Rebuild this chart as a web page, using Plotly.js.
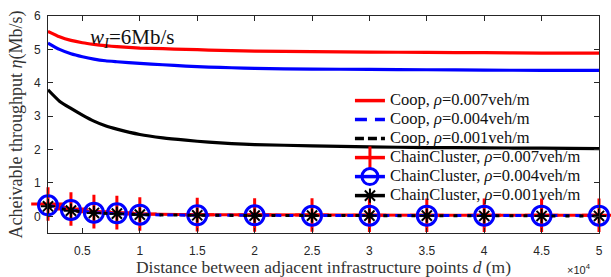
<!DOCTYPE html>
<html><head><meta charset="utf-8">
<script src="https://cdn.plot.ly/plotly-3.0.1.min.js"></script>
<style>html,body{margin:0;padding:0;background:#fff}#c{width:611px;height:277px}</style>
</head><body><div id="c"></div>
<script>
// Coop curves (distance d in m)
var coopD = [2000,3000,4000,5000,6000,7000,8000,10000,12000,14000,16000,18000,20000,25000,30000,35000,40000,45000,50000];
var coop007 = [5.54,5.38,5.27,5.20,5.15,5.11,5.08,5.04,5.02,5.00,4.98,4.96,4.95,4.93,4.92,4.91,4.90,4.89,4.89];
var coop004 = [5.19,5.00,4.87,4.78,4.71,4.66,4.63,4.58,4.54,4.50,4.47,4.45,4.43,4.41,4.40,4.39,4.38,4.37,4.37];
var coop001 = [3.79,3.45,3.23,3.03,2.85,2.71,2.61,2.45,2.35,2.28,2.22,2.18,2.15,2.11,2.08,2.06,2.05,2.04,2.03];
// ChainCluster points
var chainD = [2000,4000,6000,8000,10000,15000,20000,25000,30000,35000,40000,45000,50000];
var chain007 = [0.37,0.22,0.14,0.11,0.07,0.05,0.04,0.04,0.03,0.03,0.03,0.03,0.03];
var chain004 = [0.33,0.19,0.11,0.09,0.05,0.03,0.03,0.02,0.02,0.02,0.02,0.02,0.02];
var chain001 = [0.30,0.17,0.10,0.08,0.05,0.03,0.02,0.02,0.02,0.02,0.01,0.01,0.01];
// axis ticks
var xTickVals = [5000,10000,15000,20000,25000,30000,35000,40000,45000,50000];
var xTickText = ['0.5','1','1.5','2','2.5','3','3.5','4','4.5','5'];
var yTickVals = [0,1,2,3,4,5,6];
var names = ['Coop, <i>ρ</i>=0.007veh/m','Coop, <i>ρ</i>=0.004veh/m','Coop, <i>ρ</i>=0.001veh/m',
  'ChainCluster, <i>ρ</i>=0.007veh/m','ChainCluster, <i>ρ</i>=0.004veh/m','ChainCluster, <i>ρ</i>=0.001veh/m'];
function big(s){ return '<span style="font-size:16.5px">' + s + '</span>'; }

var RED='#ff0000', BLUE='#0000ff', BLACK='#000000';
var traces = [
  {x:coopD,y:coop007,mode:'lines',line:{color:RED,width:3.2,shape:'spline',smoothing:0.6},showlegend:false},
  {x:coopD,y:coop004,mode:'lines',line:{color:BLUE,width:3.2,shape:'spline',smoothing:0.6},showlegend:false},
  {x:coopD,y:coop001,mode:'lines',line:{color:BLACK,width:3.2,shape:'spline',smoothing:0.6},showlegend:false},
  {x:chainD,y:chain007,mode:'lines+markers',cliponaxis:false,line:{color:RED,width:3},marker:{symbol:'cross-thin-open',size:24,line:{color:RED,width:3}},showlegend:false},
  {x:chainD,y:chain004,mode:'lines+markers',cliponaxis:false,line:{color:BLUE,width:3,dash:'6px,6px'},marker:{symbol:'circle-open',size:19,line:{color:BLUE,width:3}},showlegend:false},
  {x:chainD,y:chain001,mode:'lines+markers',cliponaxis:false,line:{color:BLACK,width:3,dash:'4px,10px'},marker:{symbol:'asterisk-open',size:12,line:{color:BLACK,width:2}},showlegend:false},
  // legend entries
  {x:[null],y:[null],mode:'lines',name:big(names[0]),line:{color:RED,width:3.5}},
  {x:[null],y:[null],mode:'lines',name:big(names[1]),line:{color:BLUE,width:3.5,dash:'12px,8px'}},
  {x:[null],y:[null],mode:'lines',name:big(names[2]),line:{color:BLACK,width:3.5,dash:'9px,4px'}},
  {x:[null],y:[null],mode:'lines+markers',name:big(names[3]),line:{color:RED,width:3.5},marker:{symbol:'cross-thin-open',size:24,line:{color:RED,width:3}}},
  {x:[null],y:[null],mode:'lines+markers',name:big(names[4]),line:{color:BLUE,width:3.5},marker:{symbol:'circle-open',size:16,line:{color:BLUE,width:3}}},
  {x:[null],y:[null],mode:'lines+markers',name:big(names[5]),line:{color:BLACK,width:3.5},marker:{symbol:'asterisk-open',size:12,line:{color:BLACK,width:2}}}
];

var axColor = '#262626';
var serif = 'Liberation Serif, Times New Roman, serif';
var layout = {
  width:611, height:277,
  margin:{l:48,r:12,t:16,b:44},
  paper_bgcolor:'#fff', plot_bgcolor:'#fff',
  font:{family:'Liberation Sans, Arial, sans-serif', size:12, color:axColor},
  xaxis:{range:[2000,50000], tickvals:xTickVals, ticktext:xTickText, ticks:'inside', ticklen:5, tickcolor:axColor,
    showline:true, linecolor:axColor, linewidth:1, mirror:'ticks', showgrid:false, zeroline:false,
    tickfont:{size:12,color:axColor}, ticklabelstandoff:7,
    title:{text:'Distance between adjacent infrastructure points <i>d</i> (m)', font:{family:serif, size:17.5, color:'#333'}, standoff:4}},
  yaxis:{range:[-0.5,6], tickvals:yTickVals, ticks:'inside', ticklen:5, tickcolor:axColor,
    showline:true, linecolor:axColor, linewidth:1, mirror:'ticks', showgrid:false, zeroline:false,
    tickfont:{size:12,color:axColor}, ticklabelstandoff:4,
    title:{text:'Acheivable throughput <i>η</i>(Mb/s)', font:{family:serif, size:18, color:'#333'}, standoff:6}},
  legend:{x:0.548, y:0.677, xanchor:'left', yanchor:'top', bgcolor:'rgba(0,0,0,0)', borderwidth:0,
    font:{family:serif, size:12, color:'#111'}, tracegroupgap:0, itemwidth:30},
  annotations:[
    {xref:'paper', yref:'paper', x:0.072, y:0.9, xanchor:'left', yanchor:'middle', showarrow:false,
     text:'<i>w</i><sub><i>I</i></sub>=6Mb/s', font:{family:serif, size:21, color:'#111'}},
    {xref:'paper', yref:'paper', x:0.99, y:-0.165, xanchor:'right', yanchor:'middle', showarrow:false,
     text:'×10<sup>4</sup>', font:{size:11, color:axColor}}
  ]
};
Plotly.newPlot('c', traces, layout, {displayModeBar:false, staticPlot:true});
</script></body></html>
